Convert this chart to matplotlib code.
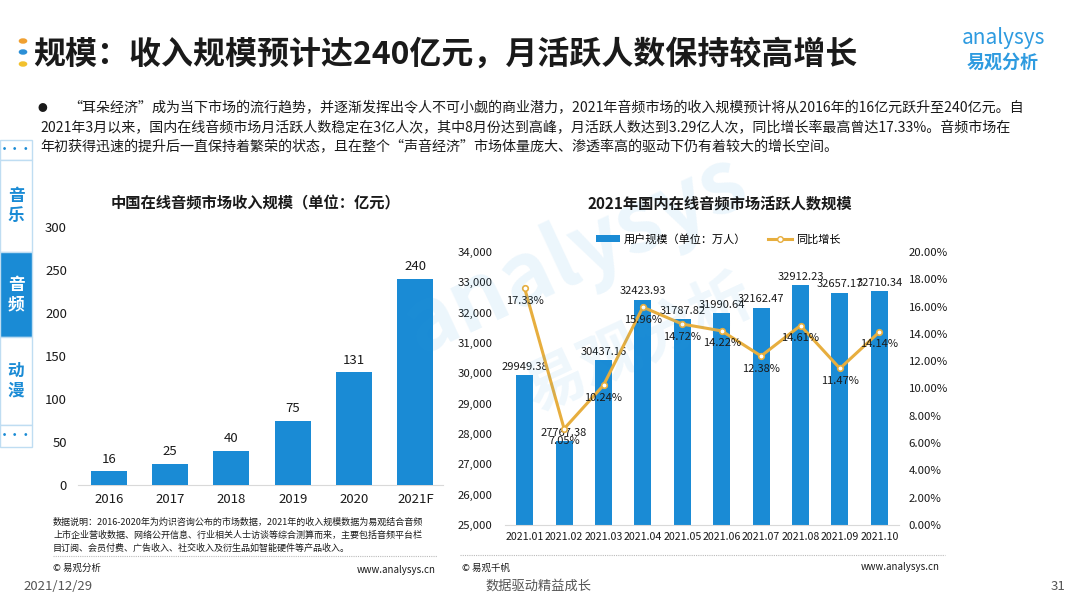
import matplotlib
matplotlib.use("Agg")
import matplotlib.pyplot as plt
from matplotlib.lines import Line2D
from matplotlib.patches import Rectangle, Patch
from matplotlib.ticker import FuncFormatter

plt.rcParams["font.family"] = ["Noto Sans CJK SC", "DejaVu Sans"]

# ---- data -------------------------------------------------------------
YEARS = ["2016", "2017", "2018", "2019", "2020", "2021F"]
REVENUE = [16, 25, 40, 75, 131, 240]            # 亿元

MONTHS = ["2021.01", "2021.02", "2021.03", "2021.04", "2021.05",
          "2021.06", "2021.07", "2021.08", "2021.09", "2021.10"]
USERS = [29949.38, 27767.38, 30437.16, 32423.93, 31787.82,
         31990.64, 32162.47, 32912.23, 32657.17, 32710.34]   # 万人
GROWTH = [17.33, 7.05, 10.24, 15.96, 14.72, 14.22, 12.38, 14.61, 11.47, 14.14]  # %

TITLE = "规模：收入规模预计达240亿元，月活跃人数保持较高增长"
PARA = [
    "“耳朵经济”成为当下市场的流行趋势，并逐渐发挥出令人不可小觑的商业潜力，2021年音频市场的收入规模预计将从2016年的16亿元跃升至240亿元。自",
    "2021年3月以来，国内在线音频市场月活跃人数稳定在3亿人次，其中8月份达到高峰，月活跃人数达到3.29亿人次，同比增长率最高曾达17.33%。音频市场在",
    "年初获得迅速的提升后一直保持着繁荣的状态，且在整个“声音经济”市场体量庞大、渗透率高的驱动下仍有着较大的增长空间。",
]
NOTE = [
    "数据说明：2016-2020年为灼识咨询公布的市场数据，2021年的收入规模数据为易观结合音频",
    "上市企业营收数据、网络公开信息、行业相关人士访谈等综合测算而来，主要包括音频平台栏",
    "目订阅、会员付费、广告收入、社交收入及衍生品如智能硬件等产品收入。",
]

BLUE = "#1A8BD5"
GOLD = "#E7AE3E"
INK = "#1A1A1A"
GRID = "#D9D9D9"

W, H = 1080, 608
fig = plt.figure(figsize=(W / 100, H / 100), dpi=100)
fig.patch.set_facecolor("white")


def px(x, y):
    """pixel coords (top-left origin) -> figure fraction"""
    return x / W, 1 - y / H


def box(l, t, r, b):
    return [l / W, 1 - b / H, (r - l) / W, (b - t) / H]


# faint watermark, behind everything
fig.text(*px(575, 255), "analysys", fontsize=62, color="#2E9BE0", alpha=0.09,
         rotation=25, ha="center", va="center", fontweight="bold", zorder=0)
fig.text(*px(640, 345), "易观分析", fontsize=44, color="#2E9BE0", alpha=0.08,
         rotation=25, ha="center", va="center", fontweight="bold", zorder=0)

# ---- header -----------------------------------------------------------
for yy, c in [(41, "#F0A030"), (52, "#2B8FD6"), (64, "#F2C12E")]:
    fig.patches.append(plt.Circle(px(23, yy), 3.6 / W, transform=fig.transFigure,
                                  color=c, zorder=5))
fig.text(*px(33, 55), TITLE, fontsize=23, fontweight="bold", color=INK, va="center")
fig.text(*px(1003, 38), "analysys", fontsize=15, color="#2E9BE0", ha="center", va="center")
fig.text(*px(1003, 62), "易观分析", fontsize=13, color="#2E9BE0", ha="center", va="center",
         fontweight="bold")

fig.text(*px(38, 108), "●", fontsize=7, color=INK, va="center")
fig.text(*px(68, 108), PARA[0], fontsize=10.1, color=INK, va="center", fontweight="medium")
fig.text(*px(40, 128), PARA[1], fontsize=10.1, color=INK, va="center", fontweight="medium")
fig.text(*px(40, 147), PARA[2], fontsize=10.1, color=INK, va="center", fontweight="medium")

# ---- left sidebar -----------------------------------------------------
side = [(140, 160, "···", False), (160, 252, "音\n乐", False), (252, 337, "音\n频", True),
        (337, 425, "动\n漫", False), (425, 447, "···", False)]
for t, b, s, on in side:
    l, bb, w, h = box(0, t, 32, b)
    fig.patches.append(Rectangle((l, bb), w, h, transform=fig.transFigure,
                                 facecolor=BLUE if on else "white",
                                 edgecolor="#BFDDF2", lw=1.0, zorder=4))
    fig.text(l + w / 2, bb + h / 2, s, fontsize=12 if "\n" in s else 8,
             fontweight="bold", color="white" if on else BLUE,
             ha="center", va="center", linespacing=1.1, zorder=5)

# ---- left chart: revenue ---------------------------------------------
ax1 = fig.add_axes(box(78, 227, 443, 485))
ax1.set_facecolor("none")
ax1.bar(range(len(YEARS)), REVENUE, width=0.59, color=BLUE, zorder=3)
for i, v in enumerate(REVENUE):
    ax1.text(i, v + 6, str(v), ha="center", va="bottom", fontsize=9.5, color=INK)
ax1.set_ylim(0, 300)
ax1.set_xlim(-0.5, 5.45)
ax1.set_yticks(range(0, 301, 50))
ax1.set_xticks(range(len(YEARS)))
ax1.set_xticklabels(YEARS)
ax1.tick_params(length=0, labelsize=9.5, colors=INK)
ax1.tick_params(axis="y", pad=8)
ax1.tick_params(axis="x", pad=6)
for s in ["top", "right", "left"]:
    ax1.spines[s].set_visible(False)
ax1.spines["bottom"].set_color(GRID)
fig.text(*px(255, 203), "中国在线音频市场收入规模（单位：亿元）", fontsize=11,
         fontweight="bold", color=INK, ha="center", va="center")

for i, line in enumerate(NOTE):
    fig.text(*px(53, 522 + 13 * i), line, fontsize=6.5, color=INK, va="center")
fig.add_artist(Line2D([53 / W, 437 / W], [1 - 556 / H] * 2, color="#BBBBBB",
                      lw=0.8, ls=(0, (1, 1))))
fig.text(*px(53, 568), "© 易观分析", fontsize=6.8, color=INK, va="center")
fig.text(*px(436, 570), "www.analysys.cn", fontsize=7, color=INK, va="center", ha="right")

# ---- right chart: monthly active users --------------------------------
ax2 = fig.add_axes(box(505, 252, 899, 525))
ax2.set_facecolor("none")
ax2.bar(range(len(MONTHS)), USERS, width=0.43, color=BLUE, zorder=2)
ax2.set_ylim(25000, 34000)
ax2.set_xlim(-0.5, len(MONTHS) - 0.5)
ax2.set_yticks(range(25000, 34001, 1000))
ax2.yaxis.set_major_formatter(FuncFormatter(lambda v, p: "{:,.0f}".format(v)))
ax2.set_xticks(range(len(MONTHS)))
ax2.set_xticklabels(MONTHS)
ax2.tick_params(length=0, labelsize=8.2, colors=INK)
ax2.tick_params(axis="x", labelsize=7.7, pad=5)
ax2.tick_params(axis="y", pad=9)
for s in ["top", "right", "left"]:
    ax2.spines[s].set_visible(False)
ax2.spines["bottom"].set_color(GRID)

ax3 = ax2.twinx()
ax3.set_ylim(0, 20)
ax3.set_yticks(range(0, 21, 2))
ax3.yaxis.set_major_formatter(FuncFormatter(lambda v, p: "%.2f%%" % v))
ax3.tick_params(length=0, labelsize=8.2, colors=INK, pad=7)
for s in ["top", "right", "left", "bottom"]:
    ax3.spines[s].set_visible(False)
ax3.plot(range(len(MONTHS)), GROWTH, color=GOLD, lw=2.2, marker="o", ms=4,
         mfc="white", mec=GOLD, mew=1.2, zorder=4)

for i, v in enumerate(USERS):
    ax2.text(i, v + 110, "%.2f" % v, ha="center", va="bottom", fontsize=8,
             color=INK, zorder=6)
for i, v in enumerate(GROWTH):
    ax3.text(i, v - 0.55, "%.2f%%" % v, ha="center", va="top", fontsize=8,
             color=INK, zorder=6)

fig.text(*px(720, 204), "2021年国内在线音频市场活跃人数规模", fontsize=11,
         fontweight="bold", color=INK, ha="center", va="center")
handles = [Patch(facecolor=BLUE, label="用户规模（单位：万人）"),
           Line2D([], [], color=GOLD, lw=2.2, marker="o", ms=4, mfc="white",
                  mec=GOLD, label="同比增长")]
fig.legend(handles=handles, loc="center", bbox_to_anchor=px(718, 239), ncol=2,
           frameon=False, fontsize=8, handlelength=2.2, handleheight=0.5,
           columnspacing=2.0, handletextpad=0.3)

fig.add_artist(Line2D([460 / W, 945 / W], [1 - 555 / H] * 2, color="#BBBBBB",
                      lw=0.8, ls=(0, (1, 1))))
fig.text(*px(462, 568), "© 易观千帆", fontsize=6.8, color=INK, va="center")
fig.text(*px(940, 567), "www.analysys.cn", fontsize=7, color=INK, va="center", ha="right")

# ---- footer -----------------------------------------------------------
fig.text(*px(23, 586), "2021/12/29", fontsize=9.5, color="#555555", va="center")
fig.text(*px(538, 586), "数据驱动精益成长", fontsize=9.5, color="#555555", va="center",
         ha="center")
fig.text(*px(1058, 586), "31", fontsize=9.5, color="#555555", va="center", ha="center")

fig.savefig("out.png", dpi=100, facecolor="white")
